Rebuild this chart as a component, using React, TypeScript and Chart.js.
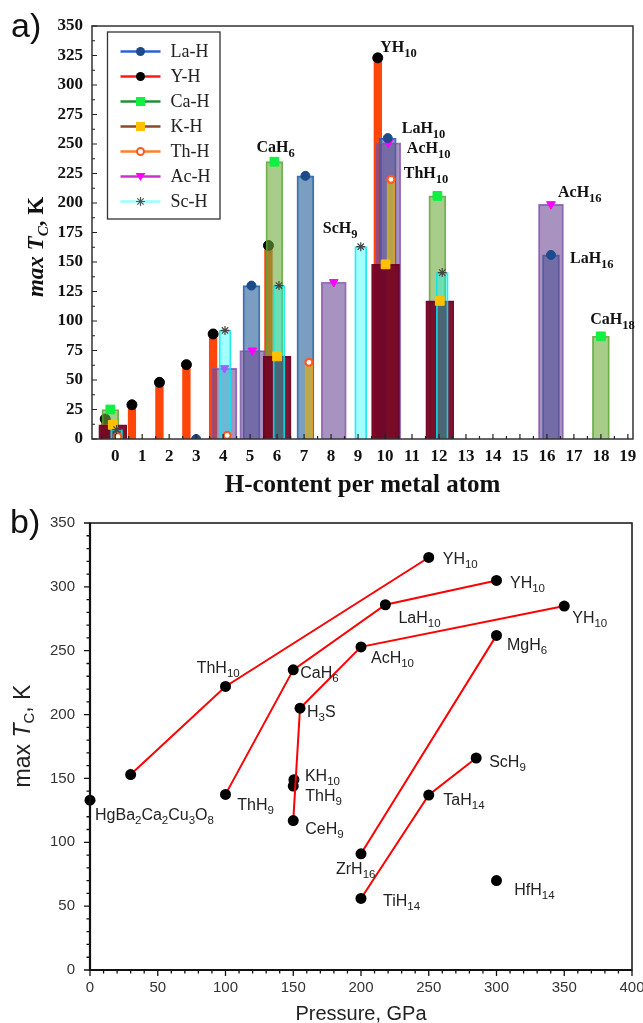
import React, { useEffect, useRef } from 'react';
import { Chart, registerables } from 'chart.js';

Chart.register(...registerables);

// ---------------- Panel a data ----------------
const hContentTicks = [0, 1, 2, 3, 4, 5, 6, 7, 8, 9, 10, 11, 12, 13, 14, 15, 16, 17, 18, 19];
const tcTicksA = [0, 25, 50, 75, 100, 125, 150, 175, 200, 225, 250, 275, 300, 325, 350];

const seriesNames = ['La-H', 'Y-H', 'Ca-H', 'K-H', 'Th-H', 'Ac-H', 'Sc-H'];

const laX = [3.0, 5.05, 7.05, 10.1, 16.15];
const laTc = [0, 130, 223, 255, 156];
const yX = [-0.37, 0.62, 1.64, 2.64, 3.63, 5.68, 9.73];
const yTc = [17, 29, 48, 63, 89, 164, 323];
const caX = [-0.18, 5.9, 11.94, 18.0];
const caTc = [25, 235, 206, 87];
const kX = [-0.09, 6.0, 10.02, 12.03];
const kTc = [12, 70, 148, 117];
const thX = [0.1, 4.15, 7.18, 10.22];
const thTc = [2, 3, 65, 220];
const acX = [4.05, 5.08, 8.1, 10.12, 16.15];
const acTc = [60, 75, 133, 251, 199];
const scX = [0.05, 4.07, 6.07, 9.1, 12.12];
const scTc = [8, 92, 130, 163, 141];

const labelsA = [
  { text: 'CaH6', x: 5.9, y: 235, dx: -18, dy: -10 },
  { text: 'YH10', x: 9.73, y: 323, dx: 2.5, dy: -6 },
  { text: 'LaH10', x: 10.1, y: 255, dx: 14, dy: -4.7 },
  { text: 'AcH10', x: 10.12, y: 251, dx: 18.6, dy: 10.5 },
  { text: 'ThH10', x: 10.22, y: 220, dx: 12.8, dy: -1 },
  { text: 'ScH9', x: 9.1, y: 163, dx: -38, dy: -13.4 },
  { text: 'AcH16', x: 16.15, y: 199, dx: 7, dy: -7.5 },
  { text: 'LaH16', x: 16.15, y: 156, dx: 19, dy: 8.5 },
  { text: 'CaH18', x: 18.0, y: 87, dx: -10.7, dy: -12.7 },
];

// ---------------- Panel b data ----------------
const pressureTicks = [0, 50, 100, 150, 200, 250, 300, 350, 400];
const tcTicksB = [0, 50, 100, 150, 200, 250, 300, 350];

const chain1P = [30, 100, 250];
const chain1Tc = [153, 222, 323];
const chain2P = [100, 150, 218, 300];
const chain2Tc = [137.5, 235, 286, 305];
const chain3P = [150, 155, 200, 350];
const chain3Tc = [117, 205, 253, 285];
const chain4P = [200, 300];
const chain4Tc = [91, 262];
const chain5P = [200, 250, 285];
const chain5Tc = [56, 137, 166];
const singleP = [0, 150.5, 150, 300];
const singleTc = [133, 149, 144, 70];

const labelsB = [
  { text: 'YH10', p: 250, t: 323, dx: 14, dy: 6.5 },
  { text: 'YH10', p: 300, t: 305, dx: 13.5, dy: 8 },
  { text: 'YH10', p: 350, t: 285, dx: 8, dy: 17 },
  { text: 'LaH10', p: 218, t: 286, dx: 13, dy: 18.5 },
  { text: 'AcH10', p: 200, t: 253, dx: 10, dy: 16.5 },
  { text: 'MgH6', p: 300, t: 262, dx: 10.5, dy: 14.6 },
  { text: 'CaH6', p: 150, t: 235, dx: 7, dy: 8.4 },
  { text: 'H3S', p: 155, t: 205, dx: 7, dy: 9 },
  { text: 'ThH10', p: 100, t: 222, dx: -28.8, dy: -13.2 },
  { text: 'KH10', p: 150.5, t: 149, dx: 11, dy: 1 },
  { text: 'ThH9', p: 150, t: 144, dx: 12, dy: 15 },
  { text: 'CeH9', p: 150, t: 117, dx: 12, dy: 13.7 },
  { text: 'ThH9', p: 100, t: 137.5, dx: 11.8, dy: 15.6 },
  { text: 'HgBa2Ca2Cu3O8', p: 0, t: 133, dx: 5, dy: 20 },
  { text: 'ZrH16', p: 200, t: 91, dx: -25, dy: 20 },
  { text: 'TiH14', p: 200, t: 56, dx: 22, dy: 8 },
  { text: 'TaH14', p: 250, t: 137, dx: 14.6, dy: 10 },
  { text: 'ScH9', p: 285, t: 166, dx: 13, dy: 9.3 },
  { text: 'HfH14', p: 300, t: 70, dx: 17.8, dy: 14.4 },
];

// ---------------- helpers ----------------
type Run = { t: string; font: string; dy: number };

function drawRuns(ctx: CanvasRenderingContext2D, runs: Run[], x: number, y: number, align: 'left' | 'center') {
  const widths = runs.map((r) => {
    ctx.font = r.font;
    return ctx.measureText(r.t).width;
  });
  const total = widths.reduce((a, b) => a + b, 0);
  let cx = align === 'center' ? x - total / 2 : x;
  ctx.textAlign = 'left';
  ctx.textBaseline = 'alphabetic';
  runs.forEach((r, i) => {
    ctx.font = r.font;
    ctx.fillText(r.t, cx, y + r.dy);
    cx += widths[i];
  });
}

function chemRuns(text: string, size: number, subSize: number, subDy: number, family: string, weight: string): Run[] {
  const parts = text.match(/\d+|\D+/g) || [];
  return parts.map((p) =>
    /^\d+$/.test(p)
      ? { t: p, font: `${weight} ${subSize}px ${family}`, dy: subDy }
      : { t: p, font: `${weight} ${size}px ${family}`, dy: 0 }
  );
}

function drawMarker(ctx: CanvasRenderingContext2D, kind: string, x: number, y: number, fill: string, stroke: string) {
  ctx.save();
  ctx.fillStyle = fill;
  ctx.strokeStyle = stroke;
  ctx.beginPath();
  if (kind === 'circle') {
    ctx.arc(x, y, 4.5, 0, Math.PI * 2);
    ctx.fill();
  } else if (kind === 'square') {
    ctx.rect(x - 4.5, y - 4.5, 9, 9);
    ctx.fill();
  } else if (kind === 'ring') {
    ctx.arc(x, y, 3.5, 0, Math.PI * 2);
    ctx.fillStyle = '#fff';
    ctx.fill();
    ctx.lineWidth = 2;
    ctx.stroke();
  } else if (kind === 'tri') {
    ctx.moveTo(x - 5, y - 3.5);
    ctx.lineTo(x + 5, y - 3.5);
    ctx.lineTo(x, y + 4.5);
    ctx.closePath();
    ctx.fill();
  } else if (kind === 'star') {
    ctx.lineWidth = 1.2;
    for (let k = 0; k < 4; k++) {
      const a = (k * Math.PI) / 4;
      ctx.moveTo(x - Math.cos(a) * 4.5, y - Math.sin(a) * 4.5);
      ctx.lineTo(x + Math.cos(a) * 4.5, y + Math.sin(a) * 4.5);
    }
    ctx.stroke();
  }
  ctx.restore();
}

const SERIF = '"Liberation Serif", "Times New Roman", serif';
const SANS = '"Liberation Sans", Arial, sans-serif';

const legendStyle = [
  { line: '#2a62d8', kind: 'circle', fill: '#1c4a8a', stroke: '#1c4a8a' },
  { line: '#ff1a1a', kind: 'circle', fill: '#000', stroke: '#000' },
  { line: '#1f8f3a', kind: 'square', fill: '#10f040', stroke: '#10f040' },
  { line: '#8b4a2b', kind: 'square', fill: '#ffc000', stroke: '#ffc000' },
  { line: '#ff7f2a', kind: 'ring', fill: '#fff', stroke: '#ff5a1f' },
  { line: '#cc33cc', kind: 'tri', fill: '#ff00ff', stroke: '#ff00ff' },
  { line: '#99ffff', kind: 'star', fill: '#555', stroke: '#555' },
];

const panelAPlugin = {
  id: 'panelA',
  afterDraw(chart: any) {
    const { ctx, chartArea: ca, scales } = chart;
    const xs = scales.x;
    const ys = scales.y;
    ctx.save();
    // frame
    ctx.strokeStyle = '#333';
    ctx.lineWidth = 1.5;
    ctx.strokeRect(ca.left, ca.top, ca.right - ca.left, ca.bottom - ca.top);
    // inward ticks
    ctx.strokeStyle = '#222';
    ctx.lineWidth = 1.2;
    ctx.beginPath();
    tcTicksA.forEach((v, i) => {
      const py = ys.getPixelForValue(v);
      ctx.moveTo(ca.left, py);
      ctx.lineTo(ca.left + 5, py);
      if (i < tcTicksA.length - 1) {
        const pm = ys.getPixelForValue((v + tcTicksA[i + 1]) / 2);
        ctx.moveTo(ca.left, pm);
        ctx.lineTo(ca.left + 3, pm);
      }
    });
    hContentTicks.forEach((v, i) => {
      const px = xs.getPixelForValue(v);
      ctx.moveTo(px, ca.bottom);
      ctx.lineTo(px, ca.bottom - 5);
      const half = i === 0 ? v - 0.5 : null;
      if (half !== null) {
        const ph = xs.getPixelForValue(half);
        ctx.moveTo(ph, ca.bottom);
        ctx.lineTo(ph, ca.bottom - 3);
      }
      if (i < hContentTicks.length - 1) {
        const pm = xs.getPixelForValue((v + hContentTicks[i + 1]) / 2);
        ctx.moveTo(pm, ca.bottom);
        ctx.lineTo(pm, ca.bottom - 3);
      }
    });
    ctx.stroke();

    // compound labels
    ctx.fillStyle = '#111';
    labelsA.forEach((l) => {
      const px = xs.getPixelForValue(l.x) + l.dx;
      const py = ys.getPixelForValue(l.y) + l.dy;
      drawRuns(ctx, chemRuns(l.text, 16, 12.5, 5, SERIF, 'bold'), px, py, 'left');
    });

    // legend box
    const lx = ca.left + 15.5;
    const ly = ca.top + 6;
    ctx.fillStyle = '#fff';
    ctx.fillRect(lx, ly, 112.5, 187);
    ctx.strokeStyle = '#333';
    ctx.lineWidth = 1.3;
    ctx.strokeRect(lx, ly, 112.5, 187);
    seriesNames.forEach((name, i) => {
      const st = legendStyle[i];
      const cy = ly + 19.5 + i * 25;
      ctx.strokeStyle = st.line;
      ctx.lineWidth = 2.5;
      ctx.beginPath();
      ctx.moveTo(lx + 13, cy);
      ctx.lineTo(lx + 53, cy);
      ctx.stroke();
      drawMarker(ctx, st.kind, lx + 33, cy, st.fill, st.stroke);
      ctx.fillStyle = '#222';
      ctx.font = `18px ${SERIF}`;
      ctx.textAlign = 'left';
      ctx.textBaseline = 'middle';
      ctx.fillText(name, lx + 63, cy + 1);
    });

    // axis titles
    ctx.fillStyle = '#111';
    ctx.textBaseline = 'alphabetic';
    drawRuns(ctx, [{ t: 'H-content per metal atom', font: `bold 25px ${SERIF}`, dy: 0 }], (ca.left + ca.right) / 2, ca.bottom + 53, 'center');
    ctx.save();
    ctx.translate(ca.left - 49, ca.top + 221);
    ctx.rotate(-Math.PI / 2);
    drawRuns(
      ctx,
      [
        { t: 'max T', font: `italic bold 23px ${SERIF}`, dy: 0 },
        { t: 'C', font: `italic bold 15px ${SERIF}`, dy: 5 },
        { t: ', K', font: `bold 23px ${SERIF}`, dy: 0 },
      ],
      0,
      0,
      'center'
    );
    ctx.restore();
    // panel letter
    ctx.font = `34px ${SANS}`;
    ctx.textAlign = 'left';
    ctx.fillStyle = '#111';
    ctx.fillText('a)', 11, 37);
    ctx.restore();
  },
};

const panelBPlugin = {
  id: 'panelB',
  afterDraw(chart: any) {
    const { ctx, chartArea: ca, scales } = chart;
    const xs = scales.x;
    const ys = scales.y;
    ctx.save();
    ctx.strokeStyle = '#111';
    ctx.lineWidth = 1.5;
    ctx.strokeRect(ca.left, ca.top, ca.right - ca.left, ca.bottom - ca.top);
    ctx.lineWidth = 2.2;
    ctx.beginPath();
    ctx.moveTo(ca.left, ca.top);
    ctx.lineTo(ca.left, ca.bottom);
    ctx.lineTo(ca.right, ca.bottom);
    ctx.stroke();
    // outward ticks
    ctx.lineWidth = 1.3;
    ctx.beginPath();
    tcTicksB.forEach((v, i) => {
      const py = ys.getPixelForValue(v);
      ctx.moveTo(ca.left, py);
      ctx.lineTo(ca.left - 6, py);
      if (i < tcTicksB.length - 1) {
        const step = (tcTicksB[i + 1] - v) / 5;
        for (let k = 1; k < 5; k++) {
          const pm = ys.getPixelForValue(v + k * step);
          ctx.moveTo(ca.left, pm);
          ctx.lineTo(ca.left - 3.5, pm);
        }
      }
    });
    pressureTicks.forEach((v, i) => {
      const px = xs.getPixelForValue(v);
      ctx.moveTo(px, ca.bottom);
      ctx.lineTo(px, ca.bottom + 6);
      if (i < pressureTicks.length - 1) {
        const step = (pressureTicks[i + 1] - v) / 5;
        for (let k = 1; k < 5; k++) {
          const pm = xs.getPixelForValue(v + k * step);
          ctx.moveTo(pm, ca.bottom);
          ctx.lineTo(pm, ca.bottom + 3.5);
        }
      }
    });
    ctx.stroke();

    ctx.fillStyle = '#222';
    labelsB.forEach((l) => {
      const px = xs.getPixelForValue(l.p) + l.dx;
      const py = ys.getPixelForValue(l.t) + l.dy;
      drawRuns(ctx, chemRuns(l.text, 16, 11.5, 4, SANS, 'normal'), px, py, 'left');
    });

    ctx.fillStyle = '#222';
    drawRuns(ctx, [{ t: 'Pressure, GPa', font: `20px ${SANS}`, dy: 0 }], (ca.left + ca.right) / 2, ca.bottom + 50, 'center');
    ctx.save();
    ctx.translate(ca.left - 60, ca.top + 213);
    ctx.rotate(-Math.PI / 2);
    drawRuns(
      ctx,
      [
        { t: 'max ', font: `23px ${SANS}`, dy: 0 },
        { t: 'T', font: `italic 23px ${SANS}`, dy: 0 },
        { t: 'C', font: `15px ${SANS}`, dy: 4 },
        { t: ', K', font: `23px ${SANS}`, dy: 0 },
      ],
      0,
      0,
      'center'
    );
    ctx.restore();
    ctx.font = `34px ${SANS}`;
    ctx.textAlign = 'left';
    ctx.fillStyle = '#111';
    ctx.fillText('b)', 10, 33);
    ctx.restore();
  },
};

function pts(xs: number[], ys: number[]) {
  return xs.map((x, i) => ({ x, y: ys[i] }));
}

function barDs(label: string, xs: number[], ys: number[], bg: string, border: string, thickness: number, order: number) {
  return {
    type: 'bar' as const,
    label,
    data: pts(xs, ys),
    backgroundColor: bg,
    borderColor: border,
    borderWidth: 1.2,
    barThickness: thickness,
    grouped: false,
    order,
  };
}

function markerDs(label: string, xs: number[], ys: number[], style: string, bg: string, border: string, radius: number, order: number, extra: any = {}) {
  return {
    type: 'scatter' as const,
    label,
    data: pts(xs, ys),
    pointStyle: style,
    pointRadius: radius,
    pointBackgroundColor: bg,
    pointBorderColor: border,
    pointBorderWidth: 1,
    showLine: false,
    order,
    ...extra,
  };
}

export default function App() {
  const refA = useRef<HTMLCanvasElement>(null);
  const refB = useRef<HTMLCanvasElement>(null);

  useEffect(() => {
    const tickFontA = { family: SERIF, size: 17, weight: 'bold' as const };
    const chartA = new Chart(refA.current as HTMLCanvasElement, {
      type: 'bar',
      data: {
        datasets: [
          barDs('Y-H', yX, yTc, 'rgb(255,70,10)', 'rgb(255,70,10)', 8, 14),
          markerDs('Y-H', yX, yTc, 'circle', '#000', '#000', 5, 13),
          barDs('La-H', laX, laTc, 'rgba(50,105,160,0.65)', 'rgba(40,100,175,0.9)', 17, 12),
          barDs('Ca-H', caX, caTc, 'rgba(110,170,60,0.6)', 'rgba(90,165,50,0.85)', 17, 11),
          barDs('Ac-H', acX, acTc, 'rgba(110,75,150,0.6)', 'rgba(130,80,175,0.8)', 25, 10),
          markerDs('Ac-H', acX, acTc, 'triangle', '#ff00ff', '#ff00ff', 5, 9, { pointRotation: 180 }),
          barDs('Th-H', thX, thTc, 'rgba(200,175,50,0.8)', 'rgba(230,160,40,0.9)', 8, 8),
          barDs('K-H', kX, kTc, 'rgba(115,0,35,0.92)', 'rgba(115,0,35,0.95)', 28, 7),
          barDs('Sc-H', scX, scTc, 'rgba(0,255,255,0.36)', 'rgba(0,230,240,0.85)', 12, 6),
          markerDs('La-H', laX, laTc, 'circle', '#1c4a8a', '#1c4a8a', 4.5, 5),
          markerDs('Ca-H', caX, caTc, 'rect', '#10f040', '#10f040', 6.2, 4),
          markerDs('Th-H', thX, thTc, 'circle', '#ffffff', '#ff5a1f', 3.5, 3, { pointBorderWidth: 2.2 }),
          markerDs('K-H', kX, kTc, 'rect', '#ffc000', '#ffc000', 6.2, 2),
          markerDs('Sc-H', scX, scTc, 'star', '#444', '#444', 4.5, 1, { pointBorderWidth: 1.2 }),
        ] as any,
      },
      options: {
        animation: false,
        responsive: false,
        maintainAspectRatio: false,
        layout: { padding: { left: 0, top: 26, right: 10, bottom: 0 } },
        plugins: { legend: { display: false }, tooltip: { enabled: false } },
        scales: {
          x: {
            type: 'linear',
            min: -0.86,
            max: 19.19,
            offset: false,
            grid: { display: false, drawTicks: false },
            border: { display: false },
            ticks: { font: tickFontA, color: '#111', padding: 7 },
            afterBuildTicks: (axis: any) => {
              axis.ticks = hContentTicks.map((v) => ({ value: v }));
            },
            afterFit: (s: any) => {
              s.height = 61;
              s.paddingLeft = 0;
              s.paddingRight = 0;
            },
          },
          y: {
            type: 'linear',
            min: 0,
            max: 350,
            grid: { display: false, drawTicks: false },
            border: { display: false },
            ticks: { font: tickFontA, color: '#111', padding: 9 },
            afterBuildTicks: (axis: any) => {
              axis.ticks = tcTicksA.map((v) => ({ value: v }));
            },
            afterFit: (s: any) => {
              s.width = 92;
              s.paddingTop = 0;
              s.paddingBottom = 0;
            },
          },
        },
      } as any,
      plugins: [panelAPlugin],
    });

    const chainDs = (p: number[], t: number[]) => ({
      type: 'scatter' as const,
      data: pts(p, t),
      showLine: true,
      borderColor: '#ff0000',
      borderWidth: 2,
      pointRadius: 5.5,
      pointBackgroundColor: '#000',
      pointBorderColor: '#000',
      pointBorderWidth: 0,
      clip: false,
    });
    const tickFontB = { family: SANS, size: 15 };
    const chartB = new Chart(refB.current as HTMLCanvasElement, {
      type: 'scatter',
      data: {
        datasets: [
          chainDs(chain1P, chain1Tc),
          chainDs(chain2P, chain2Tc),
          chainDs(chain3P, chain3Tc),
          chainDs(chain4P, chain4Tc),
          chainDs(chain5P, chain5Tc),
          { ...chainDs(singleP, singleTc), showLine: false },
        ] as any,
      },
      options: {
        animation: false,
        responsive: false,
        maintainAspectRatio: false,
        layout: { padding: { left: 0, top: 23, right: 11, bottom: 0 } },
        plugins: { legend: { display: false }, tooltip: { enabled: false } },
        scales: {
          x: {
            type: 'linear',
            min: 0,
            max: 400,
            grid: { display: false, drawTicks: false },
            border: { display: false },
            ticks: { font: tickFontB, color: '#333', padding: 9 },
            afterBuildTicks: (axis: any) => {
              axis.ticks = pressureTicks.map((v) => ({ value: v }));
            },
            afterFit: (s: any) => {
              s.height = 53;
              s.paddingLeft = 0;
              s.paddingRight = 0;
            },
          },
          y: {
            type: 'linear',
            min: 0,
            max: 350,
            grid: { display: false, drawTicks: false },
            border: { display: false },
            ticks: { font: tickFontB, color: '#333', padding: 15 },
            afterBuildTicks: (axis: any) => {
              axis.ticks = tcTicksB.map((v) => ({ value: v }));
            },
            afterFit: (s: any) => {
              s.width = 90;
              s.paddingTop = 0;
              s.paddingBottom = 0;
            },
          },
        },
      } as any,
      plugins: [panelBPlugin],
    });

    return () => {
      chartA.destroy();
      chartB.destroy();
    };
  }, []);

  return (
    <div style={{ position: 'absolute', left: 0, top: 0, width: 643, height: 1023, background: '#fff', overflow: 'hidden' }}>
      <canvas ref={refA} width={643} height={500} style={{ position: 'absolute', left: 0, top: 0, display: 'block' }} />
      <canvas ref={refB} width={643} height={523} style={{ position: 'absolute', left: 0, top: 500, display: 'block' }} />
    </div>
  );
}
